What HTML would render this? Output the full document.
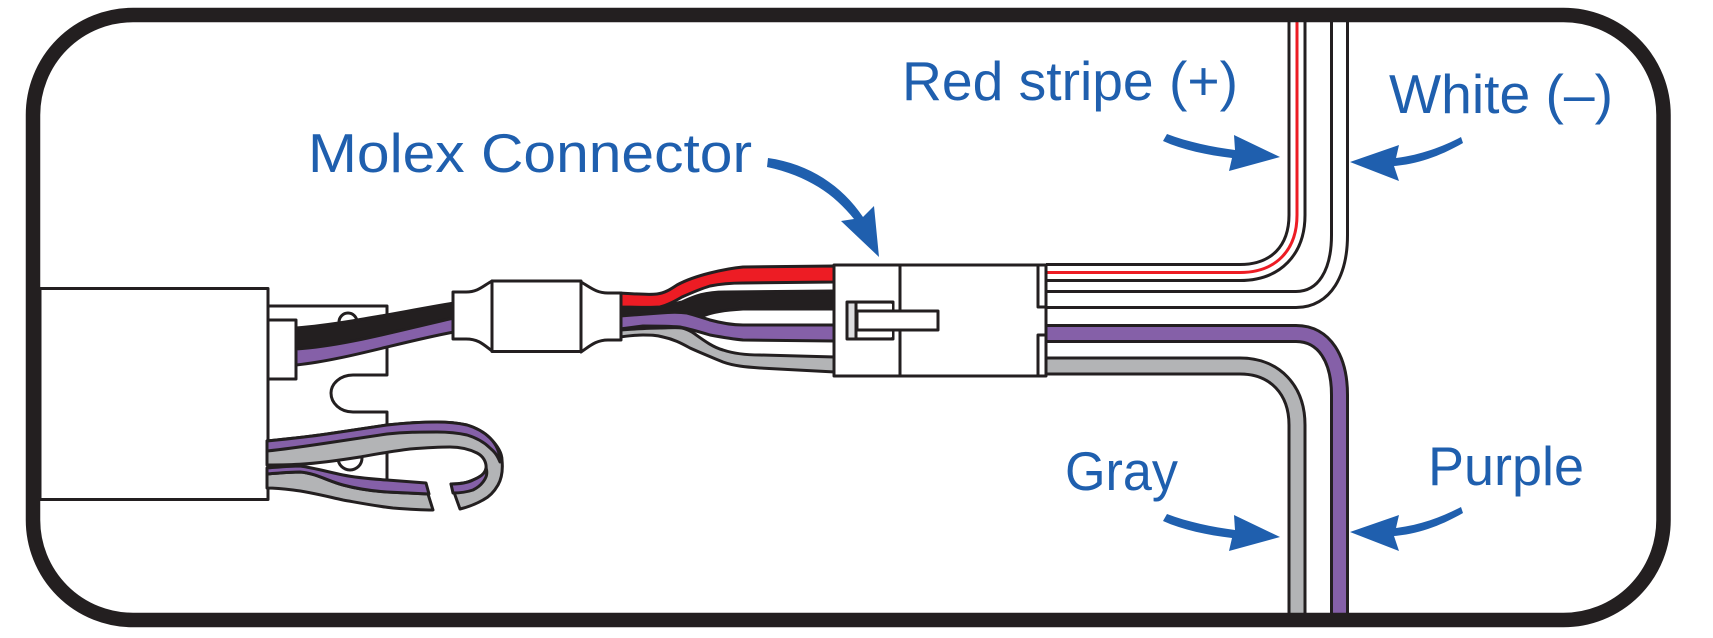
<!DOCTYPE html>
<html>
<head>
<meta charset="utf-8">
<style>
html,body{margin:0;padding:0;background:#fff}
svg{display:block}
text{font-family:"Liberation Sans",sans-serif;font-size:55px;fill:#1f5fae}
</style>
</head>
<body>
<svg width="1713" height="638" viewBox="0 0 1713 638" xmlns="http://www.w3.org/2000/svg">
<rect width="1713" height="638" fill="#fff"/>

<g fill="none" stroke="#231f20" stroke-width="3" stroke-linejoin="round">
  <!-- back plate -->
  <path d="M268,306 H387 V375 H353 C340,375 331,384 331,393 C331,403 340,412 353,412 H387 V480"/>
  <circle cx="348" cy="322" r="9"/>
  <circle cx="350" cy="458" r="12"/>
  <!-- box -->
  <rect x="40" y="288.500" width="228" height="211" fill="#fff"/>
  <rect x="268" y="320" width="28" height="59" fill="#fff"/>
</g>

<!-- black/purple wire left -->
<g stroke="#231f20" stroke-width="3" stroke-linejoin="round">
  <path d="M296,328 C345,324 400,312 454,303 L454,318 C400,330 345,346 296,349 Z" fill="#231f20"/>
  <path d="M296,349 C345,346 400,330 454,318 L454,332 C400,342 345,360 296,365 Z" fill="#8560a8"/>
</g>

<!-- loop wires -->
<g stroke="#231f20" stroke-width="3" stroke-linejoin="round">
  <!-- lower strand -->
  <path d="M267,474 C280,473 290,472 300,472 C315,473 328,481 343,485 C358,489 372,491 387,492 L428,494 L433,510 C420,510 406,509 393,508 C375,506 360,503 343,500 C325,496 310,492 293,490 C285,489 275,488 267,488 Z" fill="#b3b4b6"/>
  <path d="M267,468 C280,467 290,466 300,466 C315,468 328,472 343,475 C358,478 372,479 387,480 L426,483 L429,494 L387,492 C372,491 358,489 343,485 C328,481 315,473 300,472 C290,472 280,473 267,474 Z" fill="#8560a8"/>
  <!-- upper strand + hook -->
  <path d="M267,441 C287,439 307,437 327,434 C347,431 367,428 387,425 C405,423 420,422 437,422 C448,422 458,423 467,425 C477,428 484,432 490,438 C498,446 502,453 502,460 C503,470 502,478 498,485 C494,492 489,497 483,500 C476,504 468,507 460,509 L451,484 C460,484 467,483 473,480 C480,477 485,474 486,470 C487,462 483,456 477,453 C469,449 460,447 450,447 C437,447 423,448 410,449 C393,451 377,454 360,457 C341,460 322,463 303,464 C290,465 279,465 267,465 Z" fill="#b3b4b6"/>
  <path d="M267,441 C287,439 307,437 327,434 C347,431 367,428 387,425 C405,423 420,422 437,422 C448,422 458,423 467,425 C477,428 484,432 490,438 C496,444 500,452 500,462 C496,452 492,450 490,448 C484,442 477,438 467,435 C458,433 448,432 437,432 C420,432 405,432 387,434 C367,437 347,440 327,443 C307,446 287,449 267,451 Z" fill="#8560a8"/>
  <path d="M451,484 C460,484 467,483 473,480 C480,477 485,474 486,468 C488,474 486,478 483,482 C480,486 477,488 473,490 C467,492 460,493 453,493 Z" fill="#8560a8"/>
</g>

<!-- center wires -->
<g stroke="#231f20" stroke-width="3" stroke-linejoin="round">
  <path d="M620,304 L660,307 L682,302 C695,296 705,292 725,292 L835,291 L835,309 L743,309 C725,310 712,312 703,316 L620,316 Z" fill="#231f20"/>
  <path d="M620,293 C635,294 648,295 657,294 C665,293 671,289 677,285 C688,279 698,276 710,273 C722,270 732,268 743,267 L835,266 L835,282 L743,283 C730,283 720,284 710,286 C700,289 691,293 682,297 C675,301 668,305 660,307 C648,308 635,307 620,307 Z" fill="#ed1c24"/>
  <path d="M620,330 C635,329 648,328 660,328 C668,328 676,327 682,328 C687,329 690,331 692,332 C702,339 712,347 723,350 C735,354 748,355 760,355 L835,357 L835,372 L760,368 C746,367 734,366 723,362 C711,357 701,353 690,348 C681,343 673,339 663,337 C656,335 650,335 643,335 C635,335 628,336 620,337 Z" fill="#b3b4b6"/>
  <path d="M620,316 C635,315 648,314 660,313 C670,312 680,312 687,313 C695,315 703,318 710,320 C721,323 732,325 743,325 L835,325 L835,341 L743,340 C732,339 721,337 710,335 C700,332 690,329 680,327 C668,326 655,326 643,326 C635,327 628,328 620,329 Z" fill="#8560a8"/>
</g>

<!-- sleeve -->
<g fill="#fff" stroke="#231f20" stroke-width="3" stroke-linejoin="round">
  <path d="M453,292 H466 C478,292 483,286 492,281 V351 C483,344 478,339 466,339 H453 Z"/>
  <rect x="492" y="281" width="89" height="70.500"/>
  <path d="M581,282 C590,287 596,293 608,293 H621 V340 H608 C596,340 590,346 581,352 Z"/>
</g>

<!-- right wires -->
<g fill="none" stroke-linejoin="round">
  <path d="M1046,272.500 H1240 C1276,272.500 1297,250 1297,215 V20" stroke="#231f20" stroke-width="19"/>
  <path d="M1046,272.500 H1240 C1276,272.500 1297,250 1297,215 V20" stroke="#fff" stroke-width="13"/>
  <path d="M1046,272.500 H1240 C1276,272.500 1297,250 1297,215 V20" stroke="#ed1c24" stroke-width="3"/>
  <path d="M1046,299.500 H1296 C1325,299.500 1339.500,272 1339.500,235 V20" stroke="#231f20" stroke-width="19"/>
  <path d="M1046,299.500 H1296 C1325,299.500 1339.500,272 1339.500,235 V20" stroke="#fff" stroke-width="13"/>
  <path d="M1046,333.500 H1296 C1325,333.500 1339.500,360 1339.500,395 V620" stroke="#231f20" stroke-width="19"/>
  <path d="M1046,333.500 H1296 C1325,333.500 1339.500,360 1339.500,395 V620" stroke="#8560a8" stroke-width="13"/>
  <path d="M1046,366 H1240 C1275,366 1297,390 1297,425 V620" stroke="#231f20" stroke-width="19"/>
  <path d="M1046,366 H1240 C1275,366 1297,390 1297,425 V620" stroke="#b3b4b6" stroke-width="13"/>
</g>

<!-- connector -->
<g stroke="#231f20" stroke-width="3" stroke-linejoin="round">
  <rect x="834" y="265" width="212" height="111" fill="#fff"/>
  <path d="M900,265 V376 M1038,265 V307 H1046 M1038,376 V335 H1046" fill="none"/>
  <rect x="847" y="302" width="46" height="37" fill="#dcdddf"/>
  <rect x="857" y="304" width="35" height="33" fill="#fff" stroke="none"/>
  <path d="M856,302 V339" fill="none"/>
  <rect x="857" y="311" width="81" height="19" fill="#fff"/>
</g>

<!-- frame -->
<rect x="33" y="15" width="1630.500" height="605" rx="100" ry="100" fill="none" stroke="#231f20" stroke-width="14.500"/>

<!-- arrows -->
<g fill="#1f5fae">
  <path d="M768,158 C810,164 842,186 863,217 L874,206 L879,257 L841,221 L854,219 C834,194 808,176 767,167 Z"/>
  <path d="M1167,134 C1188,142 1212,147 1235,150 L1234,135 L1280,157 L1229,171 L1232,158 C1207,155 1183,150 1163,141 Z"/>
  <path d="M1463,143 C1444,154 1420,164 1394,166 L1399,181 L1350,162 L1399,145 L1396,158 C1420,155 1442,147 1461,137 Z"/>
  <path transform="translate(0,380)" d="M1167,134 C1188,142 1212,147 1235,150 L1234,135 L1280,157 L1229,171 L1232,158 C1207,155 1183,150 1163,141 Z"/>
  <path transform="translate(0,370)" d="M1463,143 C1444,154 1420,164 1394,166 L1399,181 L1350,162 L1399,145 L1396,158 C1420,155 1442,147 1461,137 Z"/>
</g>

<!-- labels -->
<text x="308" y="172" textLength="444" lengthAdjust="spacingAndGlyphs">Molex Connector</text>
<text x="902" y="100" textLength="336" lengthAdjust="spacingAndGlyphs">Red stripe (+)</text>
<text x="1389" y="113" textLength="224" lengthAdjust="spacingAndGlyphs">White (–)</text>
<text x="1065" y="490" textLength="113" lengthAdjust="spacingAndGlyphs">Gray</text>
<text x="1428" y="485" textLength="156" lengthAdjust="spacingAndGlyphs">Purple</text>
</svg>
</body>
</html>
